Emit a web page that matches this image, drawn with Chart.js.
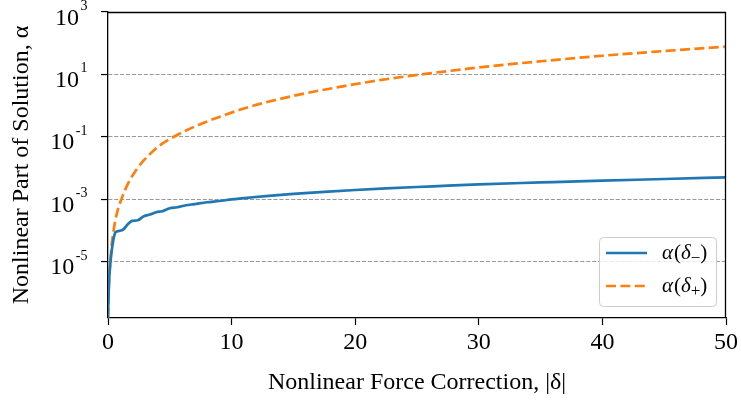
<!DOCTYPE html>
<html>
<head>
<meta charset="utf-8">
<script src="https://cdn.jsdelivr.net/npm/chart.js@4.4.1/dist/chart.umd.min.js"></script>
<style>
  html, body { margin: 0; padding: 0; background: #ffffff; }
  #wrap { width: 741px; height: 402px; }
</style>
</head>
<body>
<div id="wrap"><canvas id="c" width="741" height="402"></canvas></div>
<script>
// |delta| sample positions and alpha values for the minus branch
const deltaMinus = [0, 0.05, 0.1, 0.2, 0.3, 0.45, 0.6, 0.9, 1.25, 1.6, 1.95, 2.4, 2.9, 3.4, 3.9, 4.4,
  5.0, 5.6, 6.3, 7.0, 8.0, 9.0, 10, 11.5, 13, 15, 17.5, 20, 22.5, 25, 27.5, 30, 35, 40, 45, 50];
const alphaMinus = [1.6e-7, 1.0e-6, 3.0e-6, 1.0e-5, 2.3e-5, 5.5e-5, 8.8e-5, 9.8e-5, 1.1e-4, 1.6e-4,
  2.05e-4, 2.15e-4, 2.9e-4, 3.3e-4, 3.9e-4, 4.2e-4, 5.2e-4, 5.6e-4, 6.5e-4, 7.1e-4, 8.1e-4, 8.9e-4,
  1.0e-3, 1.15e-3, 1.3e-3, 1.5e-3, 1.75e-3, 2.0e-3, 2.25e-3, 2.5e-3, 2.75e-3, 3.05e-3, 3.5e-3,
  4.0e-3, 4.5e-3, 5.1e-3];

// |delta| sample positions and alpha values for the plus branch
const deltaPlus = [0, 0.05, 0.1, 0.2, 0.3, 0.45, 0.6, 0.85, 1.1, 1.4, 1.8, 2.2, 2.7, 3.3, 4.2, 5.3,
  6.5, 7.85, 9.5, 11, 13.2, 16, 19, 22, 25.5, 29, 32.3, 36, 40, 45, 50];
const alphaPlus = [1.6e-7, 1.0e-6, 3.2e-6, 1.1e-5, 3.5e-5, 1.0e-4, 2.2e-4, 5.6e-4, 1.05e-3, 2.1e-3,
  4.4e-3, 7.9e-3, 1.45e-2, 2.6e-2, 5.4e-2, 0.10, 0.174, 0.295, 0.513, 0.813, 1.41, 2.51, 4.17, 6.61,
  10.2, 15.1, 20.9, 28.8, 39.8, 56.2, 77.6];

// axis ticks
const xTickValues = [0, 10, 20, 30, 40, 50];
const yTickExponents = [-5, -3, -1, 1, 3];

const seriesLabels = ['minus', 'plus'];

const SERIF = '"Liberation Serif", "Times New Roman", serif';
const TICK_LEN = 7;
const Y_MAX = 1000;

const toPoints = (xs, ys) => xs.map((x, i) => ({ x: x, y: ys[i] }));

// y tick labels: "10" with a raised exponent
const powerTickLabels = {
  id: 'powerTickLabels',
  afterDraw(chart) {
    const ctx = chart.ctx;
    const ys = chart.scales.y;
    const right = chart.chartArea.left - TICK_LEN - 13.5;
    ctx.save();
    ctx.fillStyle = '#000';
    ctx.textBaseline = 'alphabetic';
    ctx.textAlign = 'left';
    yTickExponents.forEach(e => {
      const py = ys.getPixelForValue(Math.pow(10, e));
      const expStr = e < 0 ? '-' + Math.abs(e) : String(e);
      ctx.font = '14px ' + SERIF;
      const ew = ctx.measureText(expStr).width;
      ctx.font = '24px ' + SERIF;
      const bw = ctx.measureText('10').width;
      const ex = right - ew;
      ctx.fillText('10', ex - 1.5 - bw, py + 12.5);
      ctx.font = '14px ' + SERIF;
      ctx.fillText(expStr, ex, py - 2);
    });
    ctx.restore();
  }
};

// top and right spines
const frame = {
  id: 'frame',
  afterDatasetsDraw(chart) {
    const { ctx, chartArea: a } = chart;
    const t = Math.round(a.top) + 0.5;
    const r = Math.round(a.right) - 0.5;
    ctx.save();
    ctx.strokeStyle = '#000';
    ctx.lineWidth = 1.3;
    ctx.beginPath();
    ctx.moveTo(a.left, t);
    ctx.lineTo(r, t);
    ctx.lineTo(r, a.bottom);
    ctx.stroke();
    ctx.restore();
  }
};

// text runs with italic symbols and lowered subscripts
function drawRich(ctx, x, y, parts) {
  let cx = x;
  parts.forEach(p => {
    const size = p.sub ? 17 : 21;
    ctx.font = (p.italic ? 'italic ' : '') + size + 'px ' + SERIF;
    ctx.fillText(p.t, cx, y + (p.sub ? 4 : 0));
    cx += ctx.measureText(p.t).width + (p.gap || 0);
  });
}

// legend box in the lower right corner of the plot area
const cornerLegend = {
  id: 'cornerLegend',
  afterDraw(chart) {
    const { ctx, chartArea: a } = chart;
    const w = 117, h = 69;
    const bx = a.right - 10 - w, by = a.bottom - 12 - h;
    ctx.save();
    ctx.beginPath();
    ctx.roundRect(bx + 0.5, by + 0.5, w, h, 4);
    ctx.fillStyle = 'rgba(255,255,255,0.8)';
    ctx.fill();
    ctx.strokeStyle = '#cccccc';
    ctx.lineWidth = 1;
    ctx.stroke();
    const rows = [by + 16, by + 49];
    const subs = ['\u2212', '+'];
    chart.data.datasets.forEach((ds, i) => {
      const ry = rows[i];
      ctx.beginPath();
      ctx.strokeStyle = ds.borderColor;
      ctx.lineWidth = ds.borderWidth;
      ctx.setLineDash(ds.borderDash || []);
      ctx.moveTo(bx + 7, ry);
      ctx.lineTo(bx + 48, ry);
      ctx.stroke();
      ctx.setLineDash([]);
      ctx.fillStyle = '#000';
      ctx.textBaseline = 'alphabetic';
      ctx.textAlign = 'left';
      drawRich(ctx, bx + 63, ry + 6, [
        { t: '\u03b1', italic: true, gap: 1 },
        { t: '(' },
        { t: '\u03b4', italic: true },
        { t: subs[i], sub: true },
        { t: ')' }
      ]);
    });
    ctx.restore();
  }
};

new Chart(document.getElementById('c'), {
  type: 'line',
  data: {
    datasets: [
      {
        label: seriesLabels[0],
        data: toPoints(deltaMinus, alphaMinus),
        borderColor: '#1f77b4',
        borderWidth: 2.7,
        pointRadius: 0,
        fill: false,
        cubicInterpolationMode: 'monotone'
      },
      {
        label: seriesLabels[1],
        data: toPoints(deltaPlus, alphaPlus),
        borderColor: '#ff7f0e',
        borderWidth: 2.7,
        borderDash: [10, 4.4],
        pointRadius: 0,
        fill: false,
        cubicInterpolationMode: 'monotone'
      }
    ]
  },
  options: {
    responsive: false,
    animation: false,
    devicePixelRatio: 1,
    layout: { padding: { left: 0, top: 12, right: 13, bottom: 0 } },
    plugins: {
      legend: { display: false },
      tooltip: { enabled: false }
    },
    scales: {
      x: {
        type: 'linear',
        min: 0,
        max: 50,
        afterBuildTicks(scale) {
          scale.ticks = xTickValues.map(v => ({ value: v }));
        },
        afterFit(scale) { scale.height = 84; },
        ticks: {
          color: '#000',
          font: { family: SERIF, size: 24 },
          padding: 3,
          maxRotation: 0
        },
        grid: {
          drawOnChartArea: false,
          drawTicks: true,
          tickLength: TICK_LEN,
          tickColor: '#000',
          tickWidth: 1.2
        },
        border: { display: true, color: '#000', width: 1.3 },
        title: {
          display: true,
          text: 'Nonlinear Force Correction, |\u03b4|',
          color: '#000',
          font: { family: SERIF, size: 24 },
          padding: { top: 0, bottom: 4.6 }
        }
      },
      y: {
        type: 'logarithmic',
        min: 1.6e-7,
        max: Y_MAX,
        afterBuildTicks(scale) {
          scale.ticks = yTickExponents.map(e => ({ value: Math.pow(10, e) }));
        },
        afterFit(scale) { scale.width = 108; },
        ticks: {
          display: false
        },
        grid: {
          drawOnChartArea: true,
          drawTicks: true,
          // no grid line under the top spine
          color: c => (c.tick && c.tick.value >= Y_MAX) ? 'rgba(0,0,0,0)' : '#999999',
          lineWidth: 1.1,
          tickLength: TICK_LEN,
          tickColor: '#000',
          tickWidth: 1.2,
          tickBorderDash: []
        },
        // border.dash sets the dash pattern of the horizontal grid lines
        border: { display: true, color: '#000', width: 1.3, dash: [4.1, 1.8] },
        title: {
          display: true,
          text: 'Nonlinear Part of Solution, \u03b1',
          color: '#000',
          font: { family: SERIF, size: 24 },
          padding: { top: 7.6, bottom: 0 }
        }
      }
    }
  },
  plugins: [powerTickLabels, frame, cornerLegend]
});
</script>
</body>
</html>
